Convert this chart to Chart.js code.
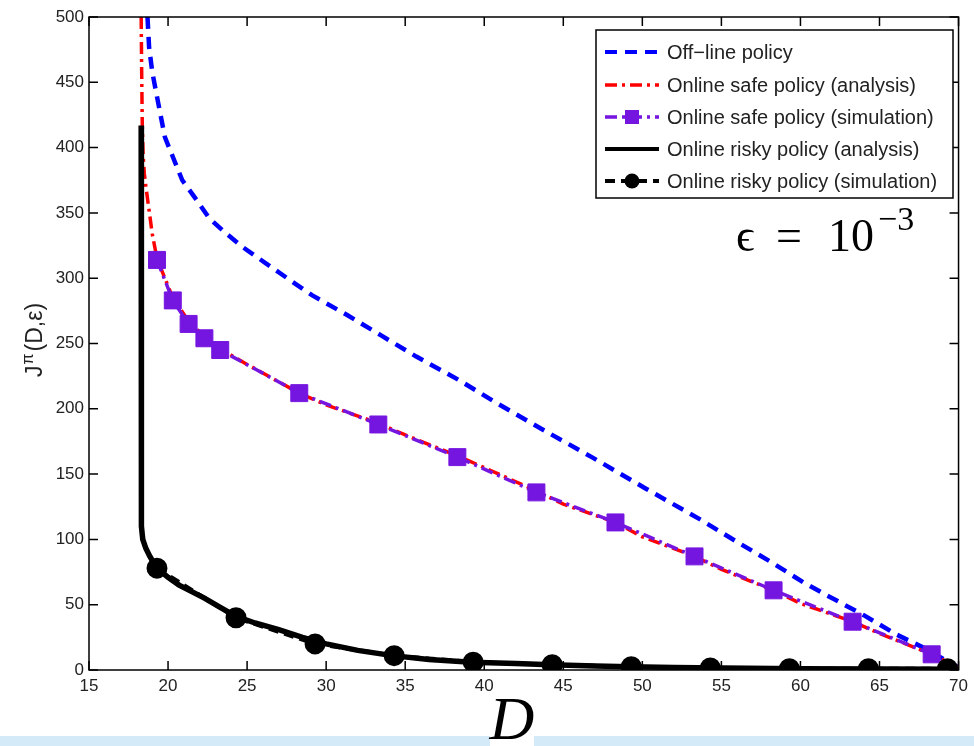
<!DOCTYPE html>
<html>
<head>
<meta charset="utf-8">
<script src="https://cdn.jsdelivr.net/npm/chart.js@4/dist/chart.umd.min.js"></script>
<style>
  html, body { margin: 0; padding: 0; background: #fff; }
  #wrap { position: relative; width: 974px; height: 746px; overflow: hidden; }
  #band { position: absolute; left: 0; top: 736px; width: 974px; height: 10px; background: #d4eaf8; }
  #myChart { position: absolute; left: 0; top: 0; }
</style>
</head>
<body>
<div id="wrap">
  <div id="band"></div>
  <canvas id="myChart" width="974" height="746"></canvas>
</div>
<script>
const xTickValues = [15, 20, 25, 30, 35, 40, 45, 50, 55, 60, 65, 70];
const yTickValues = [0, 50, 100, 150, 200, 250, 300, 350, 400, 450, 500];

const seriesLabels = [
    "Off\u2212line policy",
    "Online safe policy (analysis)",
    "Online safe policy (simulation)",
    "Online risky policy (analysis)",
    "Online risky policy (simulation)",
];

// off-line policy
const offlineD = [18.7, 18.8, 19.0, 19.3, 19.8, 20.3, 20.9, 21.8, 22.6, 23.6, 24.7, 26.7, 29.1, 31.3, 33.5, 35.7, 38.4, 40.7, 44.0, 46.8, 50.2, 53.7, 56.0, 58.1, 60.2, 61.7, 64.0, 66.1, 67.8, 69.7, 70];
const offlineJ = [500, 477, 458, 439, 408, 393, 375, 360, 346, 335, 324, 307, 287, 272, 256, 240, 222, 205, 182, 163, 139, 115, 98, 83, 67, 57, 42, 27, 17, 4, 2];

// online safe policy, analysis
const safeD = [18.3, 18.33, 18.37, 18.42, 18.5, 18.6, 18.8, 19.0, 19.3, 20.3, 21.3, 22.3, 23.3, 25, 28.3, 30, 33.3, 35, 38.3, 40, 43.3, 45, 48.3, 50, 53.3, 55, 58.3, 60, 63.3, 65, 68.3, 70];
const safeJ = [500, 460, 417, 395, 380, 370, 352, 334, 315, 285, 267, 255, 246, 234, 212, 203, 189, 180, 164, 155, 137, 127, 113, 102, 87, 77, 61, 51, 37, 28, 12, 2];

// online safe policy, simulation
const safeSimD = [19.3, 20.3, 21.3, 22.3, 23.3, 28.3, 33.3, 38.3, 43.3, 48.3, 53.3, 58.3, 63.3, 68.3];
const safeSimJ = [314, 283, 265, 254, 245, 212, 188, 163, 136, 113, 87, 61, 37, 12];

// online risky policy, analysis
const riskyD = [18.3, 18.3, 18.33, 18.4, 18.6, 18.85, 19.3, 20.0, 20.7, 21.5, 22.3, 23.3, 24.3, 25.5, 27.0, 28.5, 30.0, 32.0, 34.2, 36.5, 39.2, 42, 44.2, 47, 49.2, 52, 55, 60, 65, 70];
const riskyJ = [417, 122, 110, 100, 93, 87, 78, 71, 65, 60, 55, 48, 41, 36, 31, 25, 20, 15, 11, 8, 6, 5, 4, 3, 2.5, 2, 1.5, 1, 0.8, 0.5];

// online risky policy, simulation
const riskySimD = [19.3, 24.3, 29.3, 34.3, 39.3, 44.3, 49.3, 54.3, 59.3, 64.3, 69.3];
const riskySimJ = [78, 40, 20, 11, 6, 4, 2.5, 1.5, 1, 1, 1];

const purple = "#7515e0";

function pts(xs, ys) {
    return xs.map((x, i) => ({ x: x, y: ys[i] }));
}

const data = {
    datasets: [
        {
            label: seriesLabels[0],
            data: pts(offlineD, offlineJ),
            borderColor: "#0000ff",
            borderWidth: 4.5,
            borderDash: [12, 8],
            pointRadius: 0,
            order: 5,
        },
        {
            label: seriesLabels[1],
            data: pts(safeD, safeJ),
            borderColor: "#ff0000",
            borderWidth: 3.5,
            borderDash: [12, 5, 3, 5],
            pointRadius: 0,
            order: 4,
        },
        {
            label: seriesLabels[2],
            data: pts(safeSimD, safeSimJ),
            borderColor: purple,
            backgroundColor: purple,
            borderWidth: 3.5,
            borderDash: [12, 5, 3, 5],
            pointStyle: "rect",
            pointRadius: 12,
            pointBorderWidth: 1,
            order: 3,
        },
        {
            label: seriesLabels[3],
            data: pts(riskyD, riskyJ),
            borderColor: "#000000",
            borderWidth: 5.5,
            pointRadius: 0,
            order: 2,
        },
        {
            label: seriesLabels[4],
            data: pts(riskySimD, riskySimJ),
            borderColor: "#000000",
            backgroundColor: "#000000",
            borderWidth: 4,
            borderDash: [10, 6],
            pointStyle: "circle",
            pointRadius: 8.5,
            order: 1,
        },
    ],
};

const tickFont = { family: "'Liberation Sans', Arial, sans-serif", size: 17 };

// MATLAB style box, inward ticks, legend and annotations
const matlabStyle = {
    id: "matlabStyle",
    afterDatasetsDraw(chart) {
        const ctx = chart.ctx;
        const a = chart.chartArea;
        const xs = chart.scales.x, ys = chart.scales.y;
        ctx.save();
        ctx.strokeStyle = "#000";
        ctx.lineWidth = 1.5;
        ctx.setLineDash([]);
        ctx.strokeRect(a.left, a.top, a.right - a.left, a.bottom - a.top);
        const tl = 9;
        ctx.beginPath();
        xTickValues.forEach(v => {
            const px = xs.getPixelForValue(v);
            ctx.moveTo(px, a.bottom); ctx.lineTo(px, a.bottom - tl);
            ctx.moveTo(px, a.top); ctx.lineTo(px, a.top + tl);
        });
        yTickValues.forEach(v => {
            const py = ys.getPixelForValue(v);
            ctx.moveTo(a.left, py); ctx.lineTo(a.left + tl, py);
            ctx.moveTo(a.right, py); ctx.lineTo(a.right - tl, py);
        });
        ctx.stroke();
        ctx.restore();
    },
    afterDraw(chart) {
        const ctx = chart.ctx;
        const ds = chart.data.datasets;
        ctx.save();

        // legend
        const bx = 596, by = 30, bw = 357, bh = 168;
        ctx.fillStyle = "#fff";
        ctx.fillRect(bx, by, bw, bh);
        ctx.strokeStyle = "#000";
        ctx.lineWidth = 1.5;
        ctx.setLineDash([]);
        ctx.strokeRect(bx, by, bw, bh);
        const rowY = [52, 85, 117, 149, 181];
        const x0 = 605, x1 = 659;
        ds.forEach((d, i) => {
            const y = rowY[i];
            ctx.strokeStyle = d.borderColor;
            ctx.lineWidth = Math.min(d.borderWidth, 4);
            ctx.setLineDash(d.borderDash || []);
            ctx.beginPath();
            ctx.moveTo(x0, y); ctx.lineTo(x1, y);
            ctx.stroke();
            ctx.setLineDash([]);
            if (d.pointRadius > 0) {
                ctx.fillStyle = d.backgroundColor;
                const cx = (x0 + x1) / 2;
                if (d.pointStyle === "rect") {
                    ctx.fillRect(cx - 7, y - 7, 14, 14);
                } else {
                    ctx.beginPath();
                    ctx.arc(cx, y, 7.5, 0, Math.PI * 2);
                    ctx.fill();
                }
            }
            ctx.fillStyle = "#222";
            ctx.font = "20px 'Liberation Sans', Arial, sans-serif";
            ctx.textBaseline = "middle";
            ctx.textAlign = "left";
            ctx.fillText(d.label, 667, y + 1);
        });

        // epsilon annotation
        ctx.fillStyle = "#000";
        ctx.textBaseline = "alphabetic";
        ctx.textAlign = "left";
        const serif = "'Liberation Serif', 'DejaVu Serif', serif";
        ctx.font = "46px " + serif;
        ctx.fillText("\u03f5", 736, 251);
        ctx.fillText("=", 776, 251);
        ctx.fillText("10", 828, 251);
        ctx.font = "34px " + serif;
        ctx.fillText("\u22123", 878, 230);

        // y axis title J^pi(D,eps)
        ctx.translate(42, 340);
        ctx.rotate(-Math.PI / 2);
        const big = "23px 'Liberation Sans', Arial, sans-serif";
        const small = "16px 'Liberation Sans', Arial, sans-serif";
        const p1 = "J", p2 = "\u03c0", p3 = "(D,\u03b5)";
        ctx.font = big;
        const w1 = ctx.measureText(p1).width;
        const w3 = ctx.measureText(p3).width;
        ctx.font = small;
        const w2 = ctx.measureText(p2).width;
        const sx = -(w1 + w2 + w3 + 3) / 2;
        ctx.fillStyle = "#222";
        ctx.font = big;
        ctx.fillText(p1, sx, 0);
        ctx.font = small;
        ctx.fillText(p2, sx + w1 + 1, -9);
        ctx.font = big;
        ctx.fillText(p3, sx + w1 + w2 + 3, 0);
        ctx.setTransform(1, 0, 0, 1, 0, 0);

        // x axis title D
        ctx.fillStyle = "#fff";
        ctx.fillRect(490, 730, 44, 16);
        ctx.fillStyle = "#000";
        ctx.textAlign = "center";
        ctx.font = "italic 62px " + serif;
        ctx.fillText("D", 512, 739);
        ctx.restore();
    },
};

const config = {
    type: "scatter",
    data: data,
    options: {
        responsive: false,
        animation: false,
        showLine: true,
        layout: { padding: { top: 17, right: 12, left: 0, bottom: 0 } },
        plugins: {
            legend: { display: false },
            tooltip: { enabled: false },
        },
        elements: { line: { tension: 0 } },
        scales: {
            x: {
                type: "linear",
                min: 15,
                max: 70,
                afterBuildTicks: s => { s.ticks = xTickValues.map(v => ({ value: v })); },
                afterFit: s => { s.height = 76; },
                grid: { display: false, drawTicks: false },
                border: { display: false },
                ticks: { font: tickFont, color: "#222", padding: 6, maxRotation: 0 },
            },
            y: {
                type: "linear",
                min: 0,
                max: 500,
                afterBuildTicks: s => { s.ticks = yTickValues.map(v => ({ value: v })); },
                afterFit: s => { s.width = 89; },
                grid: { display: false, drawTicks: false },
                border: { display: false },
                ticks: { font: tickFont, color: "#222", padding: 5 },
            },
        },
    },
    plugins: [matlabStyle],
};

new Chart(document.getElementById("myChart"), config);
</script>
</body>
</html>
